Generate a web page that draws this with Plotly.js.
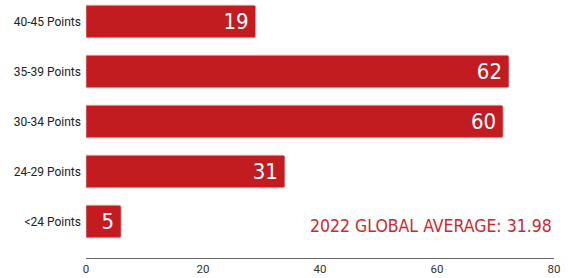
<!DOCTYPE html>
<html><head><meta charset="utf-8">
<script src="https://cdn.plot.ly/plotly-3.0.1.min.js"></script>
<style>html,body{margin:0;padding:0;background:#fff}#chart{width:568px;height:278px}</style>
</head><body><div id="chart"></div>
<script>
const categories = ["40-45 Points", "35-39 Points", "30-34 Points", "24-29 Points", "<24 Points"];
const barLengths = [29, 72.3, 71.3, 34, 6];
const barLabels = ["19", "62", "60", "31", "5"];
const xTicks = [0, 20, 40, 60, 80];
const averageText = "2022 GLOBAL AVERAGE: 31.98";

const red = "#C21C21";
Plotly.newPlot("chart", [{
  type: "bar", orientation: "h",
  y: categories, x: barLengths,
  text: barLabels.map(s => s + "\u2009"),
  textposition: "inside", insidetextanchor: "end", textangle: 0,
  textfont: {family: "DejaVu Sans Condensed, sans-serif", size: 22, color: "#fff", weight: 300},
  marker: {color: red, line: {color: "#E7A0A0", width: 0.8}, cornerradius: 2},
  width: 0.65, hoverinfo: "none"
}], {
  width: 568, height: 278,
  margin: {l: 86, r: 14, t: 0, b: 20},
  paper_bgcolor: "#fff", plot_bgcolor: "#fff",
  showlegend: false,
  xaxis: {range: [0, 80], tickvals: xTicks, showgrid: false, zeroline: false,
    showline: true, linecolor: "#666", linewidth: 1, ticks: "",
    tickfont: {family: "Roboto, sans-serif", size: 11.5, color: "#333"}},
  yaxis: {type: "category", categoryorder: "array", categoryarray: categories,
    range: [4.73, -0.43], showgrid: false, zeroline: false, showline: false, ticks: "",
    ticklabelstandoff: 4,
    tickfont: {family: "Roboto, sans-serif", size: 12, color: "#222"}},
  annotations: [{text: averageText, xref: "paper", yref: "paper", x: 1.0, y: 0.124,
    xanchor: "right", yanchor: "middle", showarrow: false,
    font: {family: "DejaVu Sans Condensed, sans-serif", size: 17.5, color: "#D0272C", weight: 300}}]
}, {staticPlot: true});
</script></body></html>
